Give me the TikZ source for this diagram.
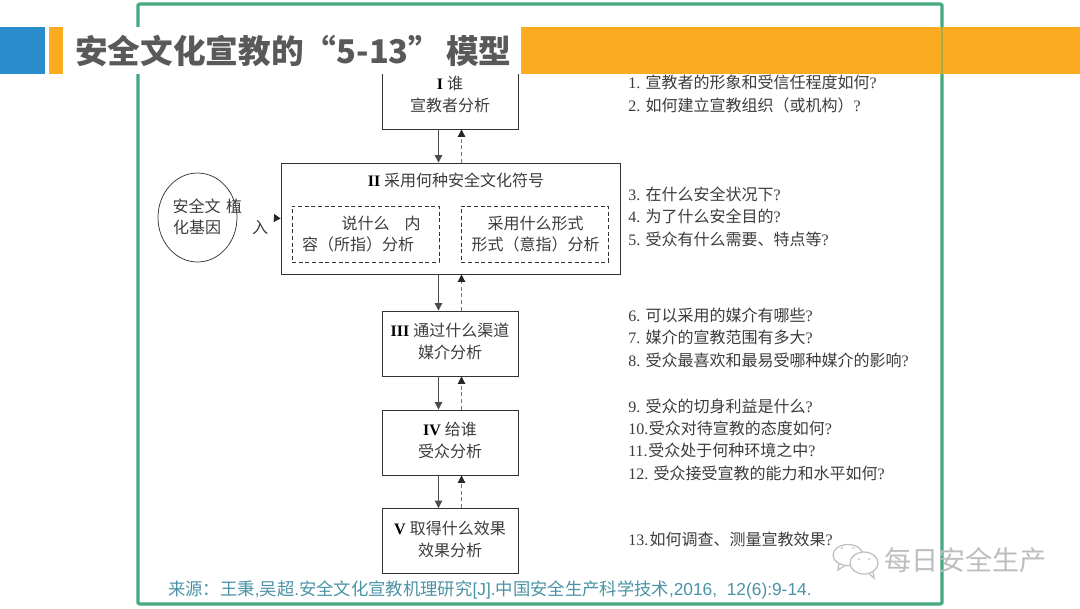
\documentclass[tikz,border=0pt]{standalone}
\usepackage{fontspec}
\setmainfont{Liberation Serif}
\newfontfamily\cjk{Noto Sans CJK SC}
\newfontfamily\sansf{Liberation Sans}
\usetikzlibrary{arrows.meta,shapes.geometric}
\definecolor{frameg}{HTML}{45A97F}
\definecolor{bandor}{HTML}{FBAB20}
\definecolor{bandbl}{HTML}{2B8CCB}
\definecolor{titleg}{HTML}{595959}
\definecolor{inkc}{HTML}{3C3C3C}
\definecolor{srcc}{HTML}{4A93A6}
\definecolor{wmg}{HTML}{BDBDBD}
\newcommand{\twol}[2]{\begin{tabular}{@{}c@{}}#1\\#2\end{tabular}}
\newcommand{\zh}[1]{{\cjk #1}}
\newcommand{\rn}[1]{\textcolor{black}{\textbf{#1}}}
\tikzset{
  x=0.75pt,y=-0.75pt,
  txt/.style={font=\fontsize{12}{16.5}\selectfont,text=inkc,inner sep=0pt},
  ask/.style={txt,anchor=base west},
  stage/.style={draw=black!80,line width=0.65pt,minimum width=102pt,minimum height=48.75pt,inner sep=0pt,txt,fill=white},
  subbox/.style={draw=black!80,densely dashed,line width=0.55pt,inner sep=0pt},
  go/.style={draw=black!70,line width=0.7pt,-{Triangle[length=5.6pt,width=5.6pt]}},
  back/.style={draw=black!55,line width=0.7pt,dash pattern=on 3pt off 2pt,-{Triangle[length=5.6pt,width=5.6pt,color=black!85]}},
}
\begin{document}
\begin{tikzpicture}
\useasboundingbox (0,0) rectangle (1080,608);
\fill[white] (0,0) rectangle (1080,608);
% frame and stage I (both run under the title band)
\node[stage] (s1) at (450,96.5) {\twol{\rn{I} \zh{谁}}{\zh{宣教者分析}}};
\draw[frameg,line width=2.4pt,rounded corners=1pt] (138,4) rectangle (942,604);
% title band
\fill[white] (61,27) rectangle (521,74);
\fill[bandbl] (0,27) rectangle (45,74);
\fill[bandor] (49,27) rectangle (63,74);
\fill[bandor] (521,27) rectangle (1080,74);
\fill[frameg!45!bandor] (940.8,27) rectangle (943.2,74);
\node[font=\fontsize{24.5}{28}\selectfont\cjk\bfseries,text=titleg,anchor=west,inner sep=0pt] (title) at (75,51) {安全文化宣教的“5-13”\hspace{3.5pt}模型};
% stages
\node[stage,minimum width=254.25pt,minimum height=83.25pt] (s2) at (450.5,218.5) {};
\node[txt] (s2t) at (456,180) {\rn{II} \zh{采用何种安全文化符号}};
\node[subbox,minimum width=110.25pt,minimum height=42pt] (d1) at (365.5,234) {};
\node[subbox,minimum width=110.25pt,minimum height=42pt] (d2) at (534.75,234) {};
\node[txt] (d1a) at (365.5,223) {\zh{说什么}};
\node[txt,font=\fontsize{12}{14}\selectfont\cjk] (d1a2) at (412.5,223) {内};
\node[txt] (d1b) at (358,244.5) {\zh{容（所指）分析}};
\node[txt] (d2a) at (535.5,223) {\zh{采用什么形式}};
\node[txt] (d2b) at (535.5,244.5) {\zh{形式（意指）分析}};
\node[stage] (s3) at (450,343.5) {\twol{\rn{III} \zh{通过什么渠道}}{\zh{媒介分析}}};
\node[stage] (s4) at (450,442.5) {\twol{\rn{IV} \zh{给谁}}{\zh{受众分析}}};
\node[stage] (s5) at (450,541) {\twol{\rn{V} \zh{取得什么效果}}{\zh{效果分析}}};
% connectors
\foreach \a/\b in {s1/s2,s2/s3,s3/s4,s4/s5}{
  \draw[go] (438.5,0 |- \a.south) -- (438.5,0 |- \b.north);
  \draw[back] (461.5,0 |- \b.north) -- (461.5,0 |- \a.south);
}
% culture gene
\node[draw=black!80,line width=0.55pt,ellipse,minimum width=59.25pt,minimum height=66.75pt,inner sep=0pt] (gene) at (197.5,217.5) {};
\node[txt] (g1) at (196.5,206) {\zh{安全文}};
\node[txt] (g2) at (234,206) {\zh{植}};
\node[txt] (g3) at (197,227) {\zh{化基因}};
\node[txt] (g4) at (260,228) {\zh{入}};
\coordinate (inlet) at (274,218);
\draw[draw=black!85,line width=0.6pt,-{Triangle[length=5pt,width=6pt]}] (inlet) -- (s2.west);
% questions
\node[ask] (q1) at (628,88) {1. \zh{宣教者的形象和受信任程度如何}?};
\node[ask] (q2) at (628,111) {2. \zh{如何建立宣教组织（或机构）}?};
\node[ask] (q3) at (628,200) {3. \zh{在什么安全状况下}?};
\node[ask] (q4) at (628,222) {4. \zh{为了什么安全目的}?};
\node[ask] (q5) at (628,245) {5. \zh{受众有什么需要、特点等}?};
\node[ask] (q6) at (628,321) {6. \zh{可以采用的媒介有哪些}?};
\node[ask] (q7) at (628,343) {7. \zh{媒介的宣教范围有多大}?};
\node[ask] (q8) at (628,366) {8. \zh{受众最喜欢和最易受哪种媒介的影响}?};
\node[ask] (q9) at (628,412) {9. \zh{受众的切身利益是什么}?};
\node[ask] (q10) at (628,434) {10.\hspace{0.5pt}\zh{受众对待宣教的态度如何}?};
\node[ask] (q11) at (628,456) {11.\hspace{0.5pt}\zh{受众处于何种环境之中}?};
\node[ask] (q12) at (628,479) {12. \zh{受众接受宣教的能力和水平如何}?};
\node[ask] (q13) at (628,545) {13.\hspace{1pt}\zh{如何调查、测量宣教效果}?};
% source
\node[anchor=west,inner sep=0pt,text=srcc,font=\fontsize{13}{15}\selectfont\sansf] (src) at (168,590) {\zh{来源：王秉}{,}\zh{吴超}.\zh{安全文化宣教机理研究}[J].\zh{中国安全生产科学技术},2016,\ \ 12(6):9-14.};
% watermark
\node[anchor=west,inner sep=0pt,text=wmg,font=\fontsize{20.3}{24}\selectfont\cjk] (wm) at (884,560) {每日安全生产};
\draw[wmg,line width=0.9pt] (848,555) ellipse [x radius=15,y radius=10.5];
\draw[wmg,line width=0.9pt] (839,564) -- (838,570) -- (845,565.5);
\draw[wmg,line width=0.9pt,fill=white] (864,563) ellipse [x radius=14,y radius=11];
\draw[wmg,line width=0.9pt] (869,573.5) -- (874,578) -- (873,571.5);
\fill[wmg] (842,548) circle (1) (853,548) circle (1) (859,559) circle (1) (869,559) circle (1);
\end{tikzpicture}
\end{document}
